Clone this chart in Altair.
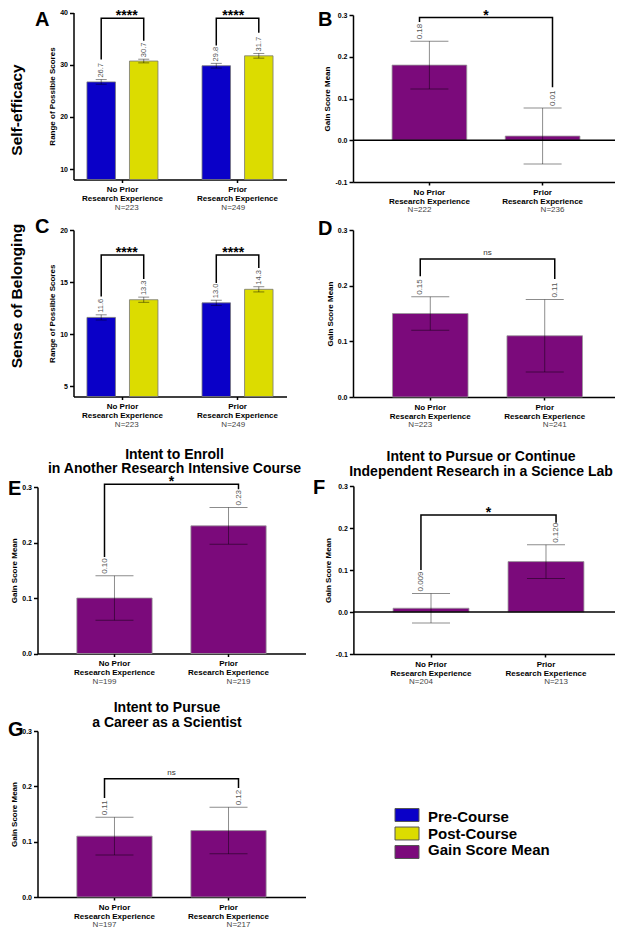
import altair as alt
import pandas as pd

# ---------------- data ----------------
CATS = ["No Prior|Research Experience", "Prior|Research Experience"]
SERIES = ["Pre-Course", "Post-Course", "Gain Score Mean"]
COLORS = ["#0a00c8", "#dcdc00", "#7b0a7b"]

# A: Self-efficacy, pre / post scores
A_PRE = [26.7, 29.8]
A_PRE_ERR = [0.45, 0.45]
A_POST = [30.7, 31.7]
A_POST_ERR = [0.35, 0.45]
A_N = [223, 249]
A_SIG = ["****", "****"]

# C: Sense of belonging, pre / post scores
C_PRE = [11.6, 13.0]
C_PRE_ERR = [0.25, 0.25]
C_POST = [13.3, 14.3]
C_POST_ERR = [0.25, 0.25]
C_N = [223, 249]
C_SIG = ["****", "****"]

# Gain score means
B_GAIN = [0.18, 0.01]
B_ERR = [0.057, 0.067]
B_N = [222, 236]
B_SIG = "*"

D_GAIN = [0.15, 0.11]
D_ERR = [0.03, 0.065]
D_N = [223, 241]
D_SIG = "ns"

E_GAIN = [0.10, 0.23]
E_ERR = [0.04, 0.033]
E_N = [199, 219]
E_SIG = "*"

F_GAIN = [0.009, 0.120]
F_ERR = [0.035, 0.04]
F_N = [204, 213]
F_SIG = "*"

G_GAIN = [0.11, 0.12]
G_ERR = [0.034, 0.042]
G_N = [197, 217]
G_SIG = "ns"

# significance brackets in data units: (left leg end, top, right leg end)
A_BRACKETS = [(31.0, 38.9, 34.6), (33.7, 38.9, 36.1)]
C_BRACKETS = [(13.6, 17.6, 15.3), (14.9, 17.6, 16.35)]
B_BRACKET = (0.283, 0.294, 0.127)
D_BRACKET = (0.217, 0.248, 0.212)
E_BRACKET = (0.174, 0.305, 0.296)
F_BRACKET = (0.100, 0.231, 0.2126)
G_BRACKET = (0.179, 0.2135, 0.197)

# ---------------- layout ----------------
FONT = "Liberation Sans"
W, H = 607, 920
OFF = 8


def P(v):
    return v - OFF


COLOR_SCALE = alt.Scale(domain=SERIES, range=COLORS)


def y_axis(x_left, ticks, title, decimals):
    if decimals == 0:
        expr = "format(datum.value, 'd')"
    else:
        expr = ("datum.value < 0 ? '-' + format(-datum.value, '.%df') : format(datum.value, '.%df')"
                % (decimals, decimals))
    return alt.Axis(orient="left", offset=-P(x_left), values=ticks, labelExpr=expr, title=title,
                    grid=False, domainColor="black", domainWidth=1.5, tickColor="black",
                    tickWidth=1.5, tickSize=4, labelFont=FONT, labelFontSize=7,
                    labelFontWeight="bold", labelColor="black", labelPadding=2,
                    titleFont=FONT, titleFontSize=8, titleFontWeight="bold",
                    titleColor="black", titlePadding=3)


def x_axis(y_base):
    return alt.Axis(orient="bottom", offset=P(y_base) - H, title=None,
                    labelExpr="split(datum.label, '|')", labelAngle=0, labelFont=FONT,
                    labelFontSize=8, labelFontWeight="bold", labelColor="black",
                    labelPadding=3, labelLineHeight=9, labelOverlap=False,
                    domainColor="black", domainWidth=1.5, tickColor="black",
                    tickWidth=1.5, tickSize=3, grid=False)


def sig_text(sig):
    if sig == "ns":
        return dict(font=FONT, fontSize=8, color="#333", baseline="alphabetic", dy=-4)
    return dict(font=FONT, fontSize=14, fontWeight="bold", color="black",
                baseline="alphabetic", dy=2)


def n_labels(ns, X, y_n):
    ndf = pd.DataFrame({"cat": CATS, "n": ["N=%d" % n for n in ns]})
    return alt.Chart(ndf).mark_text(font=FONT, fontSize=8, color="#444",
                                    baseline="middle").encode(
        x=X, y=alt.value(P(y_n)), text="n:N")


def gain_panel(vals, errs, ns, sig, br, fmt, xr, yr, ydom, yticks, zero_line):
    df = pd.DataFrame({"cat": CATS, "val": vals, "err": errs,
                       "series": ["Gain Score Mean"] * 2})
    df["lo"] = df["val"] - df["err"]
    df["hi"] = df["val"] + df["err"]
    xs = alt.Scale(domain=CATS, range=[P(xr[0]), P(xr[1])], paddingInner=0.34,
                   paddingOuter=0.345)
    ys = alt.Scale(domain=ydom, range=[P(yr[0]), P(yr[1])], nice=False, zero=False)
    X = alt.X("cat:N", scale=xs, axis=x_axis(yr[0]))
    Xn = alt.X("cat:N", scale=xs, axis=None)

    def Yn(f):
        return alt.Y(f, scale=ys, axis=None)

    base = alt.Chart(df)
    bars = base.mark_bar(stroke="#999", strokeWidth=0.8).encode(
        x=X,
        y=alt.Y("val:Q", scale=ys, axis=y_axis(xr[0], yticks, "Gain Score Mean", 1)),
        y2=alt.datum(0),
        color=alt.Color("series:N", scale=COLOR_SCALE, legend=None))
    err = base.mark_rule(color="black", opacity=0.45, strokeWidth=1).encode(
        x=Xn, y=Yn("lo:Q"), y2="hi:Q")
    caps = base.transform_fold(["lo", "hi"], as_=["k", "v"]).mark_tick(
        size=38, thickness=1, color="black", opacity=0.45).encode(x=Xn, y=Yn("v:Q"))
    labels = base.mark_text(angle=270, align="left", baseline="middle", dx=2, font=FONT,
                            fontSize=8, color="#555").encode(
        x=Xn, y=Yn("hi:Q"), text=alt.Text("val:Q", format=fmt))
    bdf = pd.DataFrame({"cat": [CATS[0], CATS[0], CATS[1], CATS[1]],
                        "yv": [br[0], br[1], br[1], br[2]], "o": [0, 1, 2, 3]})
    bracket = alt.Chart(bdf).mark_line(color="black", strokeWidth=1.5).encode(
        x=Xn, y=Yn("yv:Q"), order="o:Q")
    sdf = pd.DataFrame({"s": [sig], "yv": [br[1]]})
    st = alt.Chart(sdf).mark_text(**sig_text(sig)).encode(
        x=alt.value(P((xr[0] + xr[1]) / 2)), y=Yn("yv:Q"), text="s:N")
    layers = [bars]
    if zero_line:
        zl = alt.Chart(pd.DataFrame({"z": [0.0]})).mark_rule(
            color="black", strokeWidth=1.5).encode(
            y=Yn("z:Q"), x=alt.value(P(xr[0])), x2=alt.value(P(xr[1])))
        layers.append(zl)
    layers += [err, caps, labels, n_labels(ns, Xn, yr[0] + 28), bracket, st]
    return layers


def grouped_panel(pre, pre_err, post, post_err, ns, sigs, brs, xr, yr, ydom, yticks):
    rows = []
    for i, c in enumerate(CATS):
        rows.append(dict(cat=c, series="Pre-Course", val=pre[i], err=pre_err[i]))
        rows.append(dict(cat=c, series="Post-Course", val=post[i], err=post_err[i]))
    df = pd.DataFrame(rows)
    df["lo"] = df["val"] - df["err"]
    df["hi"] = df["val"] + df["err"]
    xs = alt.Scale(domain=CATS, range=[P(xr[0]), P(xr[1])], paddingInner=0.383,
                   paddingOuter=0.117)
    ys = alt.Scale(domain=ydom, range=[P(yr[0]), P(yr[1])], nice=False, zero=False)
    osc = alt.Scale(type="band", domain=["Pre-Course", "Post-Course"], range=[0, 71],
                    paddingInner=0.33, paddingOuter=0)
    X = alt.X("cat:N", scale=xs, axis=x_axis(yr[0]))
    Xn = alt.X("cat:N", scale=xs, axis=None)
    XO = alt.XOffset("series:N", scale=osc)

    def Yn(f):
        return alt.Y(f, scale=ys, axis=None)

    base = alt.Chart(df)
    bars = base.mark_bar(stroke="#777", strokeWidth=0.8).encode(
        x=X, xOffset=XO,
        y=alt.Y("val:Q", scale=ys, axis=y_axis(xr[0], yticks, "Range of Possible Scores", 0)),
        y2=alt.datum(ydom[0]),
        color=alt.Color("series:N", scale=COLOR_SCALE, legend=None))
    err = base.mark_rule(color="black", opacity=0.45, strokeWidth=1).encode(
        x=Xn, xOffset=XO, y=Yn("lo:Q"), y2="hi:Q")
    caps = base.transform_fold(["lo", "hi"], as_=["k", "v"]).mark_tick(
        size=11, thickness=1, color="black", opacity=0.45).encode(
        x=Xn, xOffset=XO, y=Yn("v:Q"))
    labels = base.mark_text(angle=270, align="left", baseline="middle", dx=2, font=FONT,
                            fontSize=7.5, color="#555").encode(
        x=Xn, xOffset=XO, y=Yn("hi:Q"), text=alt.Text("val:Q", format=".1f"))
    brow = []
    for i, c in enumerate(CATS):
        le, top, re_ = brs[i]
        brow += [dict(cat=c, series="Pre-Course", yv=le, o=0),
                 dict(cat=c, series="Pre-Course", yv=top, o=1),
                 dict(cat=c, series="Post-Course", yv=top, o=2),
                 dict(cat=c, series="Post-Course", yv=re_, o=3)]
    bracket = alt.Chart(pd.DataFrame(brow)).mark_line(color="black", strokeWidth=1.5).encode(
        x=Xn, xOffset=XO, y=Yn("yv:Q"), detail="cat:N", order="o:Q")
    sdf = pd.DataFrame({"cat": CATS, "s": sigs, "yv": [b[1] for b in brs]})
    st = alt.Chart(sdf).mark_text(**sig_text(sigs[0])).encode(
        x=Xn, y=Yn("yv:Q"), text="s:N")
    return [bars, err, caps, labels, n_labels(ns, Xn, yr[0] + 28), bracket, st]


def label(text, x, y, size, weight="bold", angle=0, align="center", baseline="middle",
          color="black", line_height=None):
    mk = dict(font=FONT, fontSize=size, fontWeight=weight, angle=angle, align=align,
              baseline=baseline, color=color, lineBreak="\n")
    if line_height:
        mk["lineHeight"] = line_height
    return alt.Chart(pd.DataFrame({"t": [text]})).mark_text(**mk).encode(
        text="t:N", x=alt.value(P(x)), y=alt.value(P(y)))


GAIN_TICKS = [0.0, 0.1, 0.2, 0.3]
GAIN_TICKS_NEG = [-0.1, 0.0, 0.1, 0.2, 0.3]
G_SHIFT = 5  # bottom row is lifted a little so its labels fit on the page

layers = []
layers += grouped_panel(A_PRE, A_PRE_ERR, A_POST, A_POST_ERR, A_N, A_SIG, A_BRACKETS,
                        (73.5, 286.5), (179.5, 12.5), [8, 40], [10, 20, 30, 40])
layers += grouped_panel(C_PRE, C_PRE_ERR, C_POST, C_POST_ERR, C_N, C_SIG, C_BRACKETS,
                        (73.5, 286.5), (396.5, 230), [4, 20], [5, 10, 15, 20])
layers += gain_panel(B_GAIN, B_ERR, B_N, B_SIG, B_BRACKET, ".2f", (353, 619),
                     (182, 15), [-0.1, 0.3], GAIN_TICKS_NEG, True)
layers += gain_panel(D_GAIN, D_ERR, D_N, D_SIG, D_BRACKET, ".2f", (353, 622),
                     (397, 230), [0, 0.3], GAIN_TICKS, False)
layers += gain_panel(E_GAIN, E_ERR, E_N, E_SIG, E_BRACKET, ".2f", (37.5, 305.5),
                     (653.5, 487), [0, 0.3], GAIN_TICKS, False)
layers += gain_panel(F_GAIN, F_ERR, F_N, F_SIG, F_BRACKET, ".3f", (353.4, 623.6),
                     (654, 486), [-0.1, 0.3], GAIN_TICKS_NEG, True)
layers += gain_panel(G_GAIN, G_ERR, G_N, G_SIG, G_BRACKET, ".2f", (37.5, 305.5),
                     (902 - G_SHIFT, 736 - G_SHIFT), [0, 0.3], GAIN_TICKS, False)

# legend (drawn from the same colour scale)
leg = pd.DataFrame({"series": SERIES})
LY = alt.Y("series:N", scale=alt.Scale(domain=SERIES, range=[P(808.5), P(858.5)],
                                       paddingInner=0.3, paddingOuter=0), axis=None)
layers.append(alt.Chart(leg).mark_rect(stroke="#555", strokeWidth=1).encode(
    y=LY, x=alt.value(P(395)), x2=alt.value(P(419)),
    color=alt.Color("series:N", scale=COLOR_SCALE, legend=None)))
layers.append(alt.Chart(leg).mark_text(align="left", baseline="middle", font=FONT,
                                       fontSize=15, fontWeight="bold").encode(
    y=LY, x=alt.value(P(428)), text="series:N"))

layers += [
    label("Self-efficacy", 17, 110, 15.5, angle=270),
    label("Sense of Belonging", 17, 296, 15.5, angle=270),
    label("A", 35, 25.5, 20, align="left", baseline="alphabetic"),
    label("B", 318, 25.5, 20, align="left", baseline="alphabetic"),
    label("C", 35, 233, 20, align="left", baseline="alphabetic"),
    label("D", 318, 235, 20, align="left", baseline="alphabetic"),
    label("E", 8, 495, 20, align="left", baseline="alphabetic"),
    label("F", 313, 494, 20, align="left", baseline="alphabetic"),
    label("G", 8, 741 - G_SHIFT, 20, align="left", baseline="alphabetic"),
    label("Intent to Enroll\nin Another Research Intensive Course", 174.5, 454.5, 14,
          line_height=14.5),
    label("Intent to Pursue or Continue\nIndependent Research in a Science Lab", 481, 457, 14,
          line_height=14.5),
    label("Intent to Pursue\na Career as a Scientist", 167, 713 - G_SHIFT, 14,
          line_height=15),
]

chart = alt.layer(*layers).resolve_scale(
    x="independent", y="independent", xOffset="independent"
).properties(
    width=W, height=H, padding=0, autosize=alt.AutoSizeParams(type="none")
).configure(font=FONT).configure_view(strokeWidth=0)

chart.save("out.html", embed_options={"renderer": "svg", "actions": False})
